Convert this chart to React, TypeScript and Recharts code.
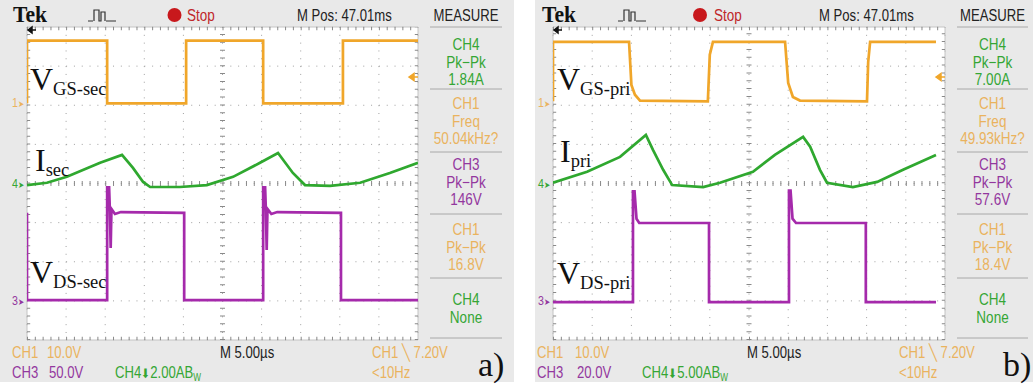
import { LineChart, Line, XAxis, YAxis, CartesianGrid, ReferenceLine } from 'recharts'

// time in divisions (10 across the screen), level in divisions (8 up)
const xTicks = [0, 1, 2, 3, 4, 5, 6, 7, 8, 9, 10]
const yTicks = [0, 1, 2, 3, 4, 5, 6, 7, 8]

// a) secondary side: [t, level]
const vgsSec = [[0, 6.05], [0, 7.65], [2.05, 7.65], [2.05, 6.05], [4.07, 6.05], [4.07, 7.65], [6.04, 7.65], [6.04, 6.05], [8.08, 6.05], [8.08, 7.65], [10, 7.65]]
const iSec = [[0, 3.96], [0.51, 4.02], [1.02, 4.17], [1.87, 4.53], [2.43, 4.73], [2.71, 4.4], [2.97, 4.04], [3.15, 3.91], [3.91, 3.91], [4.6, 3.96], [5.27, 4.17], [5.96, 4.53], [6.42, 4.78], [6.8, 4.27], [7.11, 3.96], [7.75, 3.94], [8.52, 4.02], [9.28, 4.27], [10, 4.53]]
const vdsSec = [[0, 3.25], [0, 1.02], [2.05, 1.02], [2.05, 3.9], [2.1, 3.9], [2.12, 3.3], [2.14, 2.35], [2.16, 3.35], [2.25, 3.22], [2.4, 3.27], [4.02, 3.25], [4.02, 1.02], [6.04, 1.02], [6.04, 3.9], [6.09, 3.9], [6.11, 3.3], [6.13, 2.3], [6.15, 3.35], [6.25, 3.22], [6.4, 3.27], [8.03, 3.25], [8.03, 1.02], [10, 1.02]]

// b) primary side
const vgsPri = [[0, 6.1], [0, 7.62], [1.94, 7.62], [2.0, 6.52], [2.09, 6.27], [2.22, 6.12], [3.95, 6.1], [4.0, 7.29], [4.08, 7.62], [5.92, 7.62], [6.0, 6.57], [6.12, 6.21], [6.3, 6.12], [8.01, 6.1], [8.04, 7.1], [8.09, 7.62], [9.77, 7.62]]
const iPri = [[0, 4.02], [0.87, 4.3], [1.71, 4.68], [2.37, 5.24], [2.55, 4.86], [2.81, 4.35], [3.04, 3.96], [3.83, 3.91], [4.26, 4.02], [5.1, 4.3], [5.66, 4.73], [6.38, 5.19], [6.56, 4.94], [6.81, 4.35], [6.99, 4.02], [7.65, 3.91], [8.27, 4.04], [8.93, 4.35], [9.77, 4.73]]
const vdsPri = [[0, 0.97], [2.04, 0.97], [2.04, 3.8], [2.08, 3.8], [2.13, 3.1], [2.2, 2.99], [3.98, 2.99], [3.98, 0.97], [6.02, 0.97], [6.02, 3.82], [6.06, 3.82], [6.11, 3.1], [6.2, 2.99], [7.98, 2.99], [7.98, 0.97], [9.77, 0.97]]

const measureA = [['CH4', 'Pk−Pk', '1.84A'], ['CH1', 'Freq', '50.04kHz?'], ['CH3', 'Pk−Pk', '146V'], ['CH1', 'Pk−Pk', '16.8V'], ['CH4', 'None']]
const measureB = [['CH4', 'Pk−Pk', '7.00A'], ['CH1', 'Freq', '49.93kHz?'], ['CH3', 'Pk−Pk', '57.6V'], ['CH1', 'Pk−Pk', '18.4V'], ['CH4', 'None']]

const scalesA = ['10.0V', '50.0V', '2.00A']
const scalesB = ['10.0V', '20.0V', '5.00A']

const ORANGE = '#f0a62a'
const GREEN = '#2fa82f'
const MAGENTA = '#a52aab'
const TXT_ORANGE = '#eab35e'
const TXT_GREEN = '#35a635'
const TXT_MAGENTA = '#93379e'
const chColor: Record<string, string> = { CH1: TXT_ORANGE, CH3: TXT_MAGENTA, CH4: TXT_GREEN }

const SCOPE_FONT = '"Liberation Sans", Arial, sans-serif'
const SERIF = '"Liberation Serif", "DejaVu Serif", serif'
const SQUEEZE = 0.82

const pts = (arr: number[][]) => arr.map(([t, v]) => ({ t, v }))

// condensed scope-style text
function ST({ x, y, size = 16, fill = '#222', anchor = 'start', children }: { x: number; y: number; size?: number; fill?: string; anchor?: 'start' | 'middle' | 'end'; children: any }) {
  return (
    <text transform={`translate(${x} ${y}) scale(${SQUEEZE} 1)`} fontSize={size} fill={fill} textAnchor={anchor} fontFamily={SCOPE_FONT}>
      {children}
    </text>
  )
}

function Screen({ left, top, w, h, traces }: { left: number; top: number; w: number; h: number; traces: [number[][], string][] }) {
  const pad = 10
  const step = w / 50
  const dash = `1 ${step - 1}`
  const ex = (1.6 * 10) / w
  const ey = (1.6 * 8) / h
  const tickColor = '#8a8a8a'
  return (
    <div style={{ position: 'absolute', left: left - pad, top: top - pad }}>
      <LineChart width={w + 2 * pad} height={h + 2 * pad} margin={{ top: pad, right: pad, bottom: pad, left: pad }}>
        <CartesianGrid fill="#ffffff" stroke="#a0a0a0" strokeDasharray={dash} />
        <XAxis dataKey="t" type="number" domain={[0, 10]} ticks={xTicks} hide allowDataOverflow />
        <YAxis type="number" domain={[0, 8]} ticks={yTicks} hide allowDataOverflow />
        <ReferenceLine x={0} stroke="#c4c4c4" />
        <ReferenceLine x={10} stroke="#c4c4c4" />
        <ReferenceLine y={0} stroke="#c4c4c4" />
        <ReferenceLine y={8} stroke="#c4c4c4" />
        <ReferenceLine y={8 - ey} stroke={tickColor} strokeWidth={3.2} strokeDasharray={dash} />
        <ReferenceLine y={ey} stroke={tickColor} strokeWidth={3.2} strokeDasharray={dash} />
        <ReferenceLine x={ex} stroke={tickColor} strokeWidth={3.2} strokeDasharray={dash} />
        <ReferenceLine x={10 - ex} stroke={tickColor} strokeWidth={3.2} strokeDasharray={dash} />
        <ReferenceLine y={4} stroke={tickColor} strokeWidth={5} strokeDasharray={dash} />
        <ReferenceLine x={5} stroke={tickColor} strokeWidth={5} strokeDasharray={dash} />
        {traces.map(([arr, color], i) => (
          <Line key={i} data={pts(arr)} dataKey="v" type="linear" stroke={color} strokeWidth={2.7} dot={false} isAnimationActive={false} />
        ))}
      </LineChart>
    </div>
  )
}

type PanelCfg = {
  tek: number
  icon: number
  stopDot: number
  stop: number
  mpos: number
  sepX: [number, number]
  gx: number
  gr: number
  measure: string[][]
  scales: string[]
  ch1x: number
  valx: number
  ch4x: number
  mtime: number
  trig: number
  tag: string
  tagx: number
  labels: [string, string, number, number][]
}

const measureBase = [50, 109, 170, 235, 305]
const seps = [27, 89, 152, 214, 278, 338]

function PanelText({ c }: { c: PanelCfg }) {
  const mid = (c.sepX[0] + c.sepX[1]) / 2
  return (
    <g>
      <text x={c.tek} y={22} fontFamily={SERIF} fontWeight="bold" fontSize={24} textLength={34} lengthAdjust="spacingAndGlyphs" fill="#111">Tek</text>
      <path d={`M${c.icon} 21h5 M${c.icon + 6} 21v-11h5v11h2v-9h4v9 M${c.icon + 18} 21h10`} stroke="#333" strokeWidth={1.2} fill="none" />
      <circle cx={c.stopDot} cy={15} r={7} fill="#c8181c" />
      <ST x={c.stop} y={21} size={16.5} fill="#c0262a">Stop</ST>
      <ST x={c.mpos} y={21}>M Pos: 47.01ms</ST>
      <ST x={mid} y={21} anchor="middle">MEASURE</ST>
      {seps.map((s) => (
        <line key={s} x1={c.sepX[0]} x2={c.sepX[1]} y1={s} y2={s} stroke="#a8a8a8" strokeWidth={1} />
      ))}
      {c.measure.map((row, gi) =>
        row.map((s, ri) => (
          <ST key={`${gi}-${ri}`} x={mid} y={measureBase[gi] + ri * 17.5} size={16.5} fill={chColor[row[0]]} anchor="middle">{s}</ST>
        ))
      )}
      {/* channel markers */}
      <ST x={c.gx - 15} y={107} size={13} fill={TXT_ORANGE}>1<tspan fontSize={9}>➤</tspan></ST>
      <ST x={c.gx - 15} y={188} size={13} fill={TXT_GREEN}>4<tspan fontSize={9}>➤</tspan></ST>
      <ST x={c.gx - 15} y={305} size={13} fill={TXT_MAGENTA}>3<tspan fontSize={9}>➤</tspan></ST>
      <path d={`M${c.gx + 1} 30l4 -3v6z M${c.gx + 4} 30h5`} stroke="#111" strokeWidth={1.5} fill="#111" />
      <path d={`M${c.trig} 77l5 -3.5v7z M${c.trig + 4} 77h5`} stroke={ORANGE} strokeWidth={1.5} fill={ORANGE} />
      {/* bottom bar */}
      <ST x={c.ch1x} y={358} fill={TXT_ORANGE}>CH1</ST>
      <ST x={c.valx} y={358} fill={TXT_ORANGE}>{c.scales[0]}</ST>
      <ST x={c.ch1x} y={378} fill={TXT_MAGENTA}>CH3</ST>
      <ST x={c.valx + 2} y={378} fill={TXT_MAGENTA}>{c.scales[1]}</ST>
      <ST x={c.ch4x} y={378} fill={TXT_GREEN}>CH4<tspan fontSize={13}>⬇</tspan>{c.scales[2]}B<tspan fontSize={10} dy={3}>W</tspan></ST>
      <ST x={c.mtime} y={358}>M 5.00µs</ST>
      <ST x={c.gr - 46} y={358} fill={TXT_ORANGE}>CH1 ╲ 7.20V</ST>
      <ST x={c.gr - 46} y={378} fill={TXT_ORANGE}>&lt;10Hz</ST>
      <text x={c.tagx} y={376} fontFamily={SERIF} fontSize={34} fill="#111">{c.tag}</text>
      {/* trace labels */}
      {c.labels.map(([main, sub, x, y]) => (
        <text key={main + sub} x={x} y={y} fontFamily={SERIF} fontSize={32} fill="#111">
          {main}
          <tspan fontSize={18.5} dy={5}>{sub}</tspan>
        </text>
      ))}
    </g>
  )
}

const panelA: PanelCfg = {
  tek: 13, icon: 88, stopDot: 174.5, stop: 187, mpos: 297, sepX: [430, 502], gx: 27, gr: 418,
  measure: measureA, scales: scalesA, ch1x: 12, valx: 47, ch4x: 115, mtime: 220, trig: 409, tag: 'a)', tagx: 478,
  labels: [['V', 'GS-sec', 30, 90], ['I', 'sec', 35, 171], ['V', 'DS-sec', 30, 283]],
}
const panelB: PanelCfg = {
  tek: 542, icon: 618, stopDot: 700, stop: 714, mpos: 819, sepX: [957, 1028], gx: 553, gr: 945,
  measure: measureB, scales: scalesB, ch1x: 537, valx: 575, ch4x: 642, mtime: 747, trig: 936, tag: 'b)', tagx: 1003,
  labels: [['V', 'GS-pri', 557, 90], ['I', 'pri', 560, 162], ['V', 'DS-pri', 557, 284]],
}

export default function App() {
  return (
    <div style={{ position: 'absolute', left: 0, top: 0, width: 1035, height: 388, background: '#fff', overflow: 'hidden' }}>
      <div style={{ position: 'absolute', left: 0, top: 0, width: 514, height: 382, background: '#e9e9e9' }} />
      <div style={{ position: 'absolute', left: 535, top: 0, width: 498, height: 382, background: '#e9e9e9' }} />
      <Screen left={27} top={27} w={391} h={313} traces={[[vgsSec, ORANGE], [iSec, GREEN], [vdsSec, MAGENTA]]} />
      <Screen left={553} top={27} w={392} h={313} traces={[[vgsPri, ORANGE], [iPri, GREEN], [vdsPri, MAGENTA]]} />
      <svg width={1035} height={388} style={{ position: 'absolute', left: 0, top: 0, pointerEvents: 'none' }}>
        <PanelText c={panelA} />
        <PanelText c={panelB} />
      </svg>
    </div>
  )
}
